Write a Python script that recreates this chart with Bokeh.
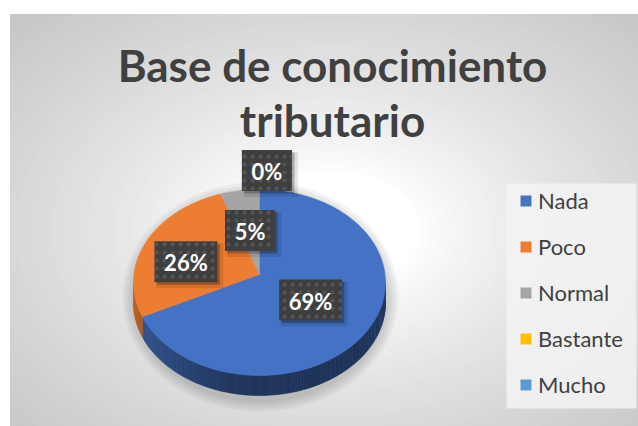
import numpy as np
from bokeh.plotting import figure
from bokeh.models import Range1d, Legend, LegendItem, ColumnDataSource
from bokeh.core.properties import value
from bokeh.embed import file_html
from bokeh.resources import INLINE

# ---------------- data ----------------
categories = ["Nada", "Poco", "Normal", "Bastante", "Mucho"]
values = [69, 26, 5, 0, 0]
colors = ["#4472C4", "#ED7D31", "#A5A5A5", "#FFC000", "#5B9BD5"]
title_lines = ["Base de conocimiento", "tributario"]
labelled = 4  # number of slices that carry a data label

# ---------------- layout ----------------
CX, CY = 259.0, 282.0      # top-face ellipse centre
AX, AY = 259.0, 274.0      # apex of slices
RX, RY = 126.0, 93.0
DEPTH = 20.0
label_frac = [0.49, 0.60, 0.48, 1.12]
label_shift = [0.0, -12.0, 0.0, 3.0]

W, H = 638, 426
p = figure(width=W, height=H, x_range=Range1d(10, W), y_range=Range1d(H, 14),
           output_backend="svg", toolbar_location=None,
           x_axis_location=None, y_axis_location=None,
           min_border_left=10, min_border_top=14, min_border_right=0, min_border_bottom=0)
p.grid.visible = False
p.outline_line_color = "#c6c6c6"
p.border_fill_color = "white"
p.background_fill_color = "#c8c8c8"

# ---- radial background gradient ----
GX, GY, GRX, GRY = 330.0, 230.0, 450.0, 300.0
ts = np.linspace(1.2, 0.18, 52)
bg_cols = []
for t in ts:
    s = np.clip((t - 0.2) / 0.8, 0, 1) ** 0.8
    L = int(round(199 + 56 * (1 - s)))
    bg_cols.append("#%02x%02x%02x" % (L, L, L))
p.ellipse(x=[GX] * len(ts), y=[GY] * len(ts), width=list(2 * GRX * ts), height=list(2 * GRY * ts),
          fill_color=bg_cols, line_color=None)

# ---- pie shadow ----
for s in [12, 9, 6, 3]:
    p.ellipse(x=[CX + 1], y=[CY + 14], width=[2 * (RX + s)], height=[2 * (RY + 10 + s)],
              fill_color="black", fill_alpha=0.045, line_color=None)

# ---- angles ----
total = float(sum(values))
fr = np.array(values) / total
ends = np.cumsum(fr) * 360.0
starts = ends - fr * 360.0

def rim(theta_deg, dy=0.0):
    th = np.radians(theta_deg)
    return CX + RX * np.sin(th), CY - RY * np.cos(th) + dy

def hexmul(c, f):
    r, g, b = int(c[1:3], 16), int(c[3:5], 16), int(c[5:7], 16)
    return "#%02x%02x%02x" % (int(r * f), int(g * f), int(b * f))

# ---- side (visible lower half: 90..270 deg) ----
sxs, sys_, scs = [], [], []
for a0, a1, c in zip(starts, ends, colors):
    lo, hi = max(a0, 90.0), min(a1, 270.0)
    if hi <= lo:
        continue
    edges = np.linspace(lo, hi, max(2, int((hi - lo) / 1.5) + 1))
    for e0, e1 in zip(edges[:-1], edges[1:]):
        x0, y0 = rim(e0)
        x1, y1 = rim(e1)
        sxs.append([x0, x1, x1, x0])
        sys_.append([y0, y1, y1 + DEPTH, y0 + DEPTH])
        mid = 0.5 * (e0 + e1)
        f = np.interp(mid, [90, 125, 190, 235, 270], [0.52, 0.45, 0.47, 0.68, 0.82])
        scs.append(hexmul(c, f))
p.patches(xs=sxs, ys=sys_, fill_color=scs, line_color=scs, line_width=0.6)

# ---- top faces ----
txs, tys = [], []
for a0, a1 in zip(starts, ends):
    n = max(2, int((a1 - a0) / 1.0) + 1)
    ang = np.linspace(a0, a1, n)
    xr, yr = rim(ang)
    txs.append([AX] + list(xr))
    tys.append([AY] + list(yr))
top_src = ColumnDataSource(dict(xs=txs, ys=tys, color=colors, cat=categories))
top_r = p.patches(xs="xs", ys="ys", fill_color="color", line_color="color", line_width=0.5,
                  source=top_src)

# ---- data labels ----
pct = [f"{int(round(v / total * 100))}%" for v in values]
lx, ly, lt, lw = [], [], [], []
for i in range(labelled):
    mid = 0.5 * (starts[i] + ends[i]) + label_shift[i]
    th = np.radians(mid)
    lx.append(AX + RX * label_frac[i] * np.sin(th))
    ly.append(AY - RY * label_frac[i] * np.cos(th))
    lt.append(pct[i])
    lw.append(19 + sum(18.3 if ch == "%" else 12.8 for ch in pct[i]))
lx, ly = np.array(lx), np.array(ly)
p.rect(x=lx + 4, y=ly + 4, width=[w + 4 for w in lw], height=45, fill_color="black",
       fill_alpha=0.10, line_color=None)
p.rect(x=lx + 2.5, y=ly + 2.5, width=lw, height=41, fill_color="black",
       fill_alpha=0.25, line_color=None)
p.rect(x=lx, y=ly, width=lw, height=41, fill_color="#3f3f3f", line_color=None,
       hatch_pattern="dot", hatch_color="#545454", hatch_scale=8, hatch_weight=1)
p.text(x=lx, y=ly + 1, text=lt, text_font=value("Lato"), text_font_style="bold",
       text_font_size="22px", text_color="white", text_align="center", text_baseline="middle")

# ---- title ----
p.text(x=[332, 332], y=[64, 119], text=title_lines, text_font=value("Lato"),
       text_font_style="bold", text_font_size="44px", text_color="#404040",
       text_align="center", text_baseline="middle")

# ---- legend ----
p.quad(left=[506], right=[636], top=[183], bottom=[408], fill_color="#f3f3f3",
       fill_alpha=0.85, line_color=None)
items = [LegendItem(label=c, renderers=[top_r], index=i) for i, c in enumerate(categories)]
legend = Legend(items=items, location=(509, 28), orientation="vertical",
                glyph_width=13, glyph_height=13, label_height=20, label_width=86,
                spacing=19, padding=11, margin=0, label_standoff=6,
                label_text_font="Lato", label_text_font_size="22px",
                label_text_color="#404040",
                background_fill_alpha=0.0, border_line_color=None)
p.add_layout(legend)

open("out.html", "w").write(file_html(p, INLINE))
